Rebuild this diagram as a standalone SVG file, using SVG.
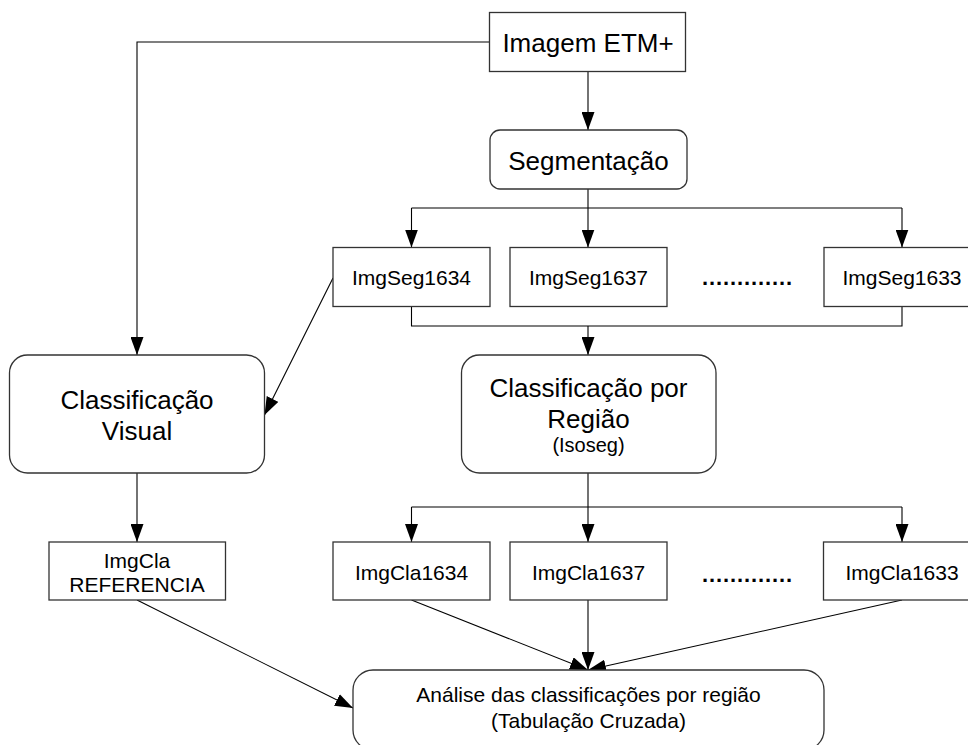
<svg xmlns="http://www.w3.org/2000/svg" width="968" height="745" viewBox="0 0 968 745">
<defs>
<marker id="ah" markerUnits="userSpaceOnUse" markerWidth="19" markerHeight="13" refX="18" refY="6.5" orient="auto">
<path d="M0,0 L18,6.5 L0,13 z" fill="#000"/>
</marker>
<style>
.box{fill:#fff;stroke:#333;stroke-width:1.3}
.c{fill:none;stroke:#000;stroke-width:1.1}
.a{marker-end:url(#ah)}
text{font-family:"Liberation Sans",Arial,sans-serif;fill:#000;text-anchor:middle}
.L{font-size:26px}
.S{font-size:21px}
.dots{font-size:22px;font-weight:bold}
</style>
</defs>
<rect width="968" height="745" fill="#fff"/>
<g id="connectors">
<path class="c a" d="M489.5,42 H137 V355"/>
<path class="c a" d="M588,71.5 V130"/>
<path class="c" d="M588,189 V208 M411.5,208 H902"/>
<path class="c a" d="M411.5,208 V247.5"/>
<path class="c a" d="M588,208 V247.5"/>
<path class="c a" d="M902,208 V247.5"/>
<path class="c" d="M411.5,306.5 V326 H902 V306.5"/>
<path class="c a" d="M588,326 V355"/>
<path class="c a" d="M333,278 L264.5,415"/>
<path class="c a" d="M137,473 V542"/>
<path class="c" d="M588,473 V507 M411.5,507 H902"/>
<path class="c a" d="M411.5,507 V542"/>
<path class="c a" d="M588,507 V542"/>
<path class="c a" d="M902,507 V542"/>
<path class="c a" d="M137,600 L353,708"/>
<path class="c a" d="M411.5,600 L588,670"/>
<path class="c a" d="M588,600 V670"/>
<path class="c a" d="M902,600 L588,670"/>
</g>
<g id="imagem">
<rect class="box" x="489.5" y="12.5" width="196" height="59"/>
<text class="L" x="588" y="52">Imagem ETM+</text>
</g>
<g id="segmentacao">
<rect class="box" x="490" y="130" width="197" height="59" rx="10"/>
<text class="L" x="588.5" y="170">Segmentação</text>
</g>
<g id="imgseg1634">
<rect class="box" x="333" y="247.5" width="157" height="59"/>
<text class="S" x="411.5" y="285">ImgSeg1634</text>
</g>
<g id="imgseg1637">
<rect class="box" x="510" y="247.5" width="157" height="59"/>
<text class="S" x="588.5" y="285">ImgSeg1637</text>
</g>
<g id="dots1">
<text class="dots" x="747" y="285" textLength="90" lengthAdjust="spacing">.............</text>
</g>
<g id="imgseg1633">
<rect class="box" x="824" y="247.5" width="157" height="59"/>
<text class="S" x="902" y="285">ImgSeg1633</text>
</g>
<g id="classvisual">
<rect class="box" x="9.5" y="355" width="255" height="118" rx="18"/>
<text class="L" x="137" y="409">Classificação</text>
<text class="L" x="137" y="440">Visual</text>
</g>
<g id="classregiao">
<rect class="box" x="461.5" y="355" width="254.5" height="118" rx="18"/>
<text class="L" x="588.5" y="397">Classificação por</text>
<text class="L" x="588.5" y="428">Região</text>
<text class="S" x="588.5" y="452" style="font-size:20px">(Isoseg)</text>
</g>
<g id="imgclaref">
<rect class="box" x="49" y="542" width="176.5" height="58"/>
<text class="S" x="137" y="568">ImgCla</text>
<text class="S" x="137" y="592">REFERENCIA</text>
</g>
<g id="imgcla1634">
<rect class="box" x="333" y="542" width="157" height="58"/>
<text class="S" x="411.5" y="580">ImgCla1634</text>
</g>
<g id="imgcla1637">
<rect class="box" x="510" y="542" width="157" height="58"/>
<text class="S" x="588.5" y="580">ImgCla1637</text>
</g>
<g id="dots2">
<text class="dots" x="747" y="582" textLength="90" lengthAdjust="spacing">.............</text>
</g>
<g id="imgcla1633">
<rect class="box" x="823.5" y="542" width="157" height="58"/>
<text class="S" x="902" y="580">ImgCla1633</text>
</g>
<g id="analise">
<rect class="box" x="353" y="670" width="471" height="80" rx="20"/>
<text class="S" x="588.5" y="702">Análise das classificações por região</text>
<text class="S" x="588.5" y="728">(Tabulação Cruzada)</text>
</g>
</svg>
